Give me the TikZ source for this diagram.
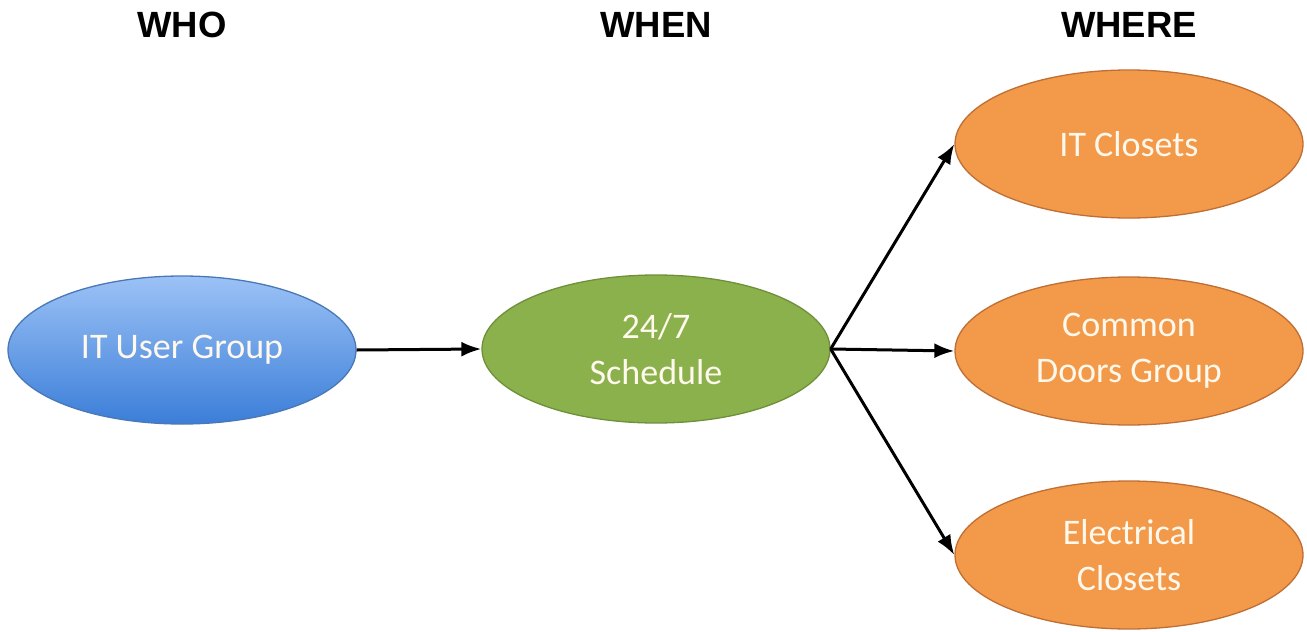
\documentclass[tikz,border=0pt]{standalone}
\usepackage{fontspec}
\setmainfont{Carlito}
\newfontfamily\headfont{Liberation Sans}
\usetikzlibrary{arrows.meta,shapes.geometric}
\definecolor{bluetop}{HTML}{9CC2F6}
\definecolor{bluebot}{HTML}{3B7ED8}
\definecolor{blueline}{HTML}{4A78B6}
\definecolor{greenfill}{HTML}{8BB14C}
\definecolor{greenline}{HTML}{6F8F3A}
\definecolor{orangefill}{HTML}{F3994A}
\definecolor{orangeline}{HTML}{BF6E34}
\definecolor{labeltext}{HTML}{FFF8EC}
\tikzset{
  bubble/.style={ellipse, minimum width=348pt, minimum height=148pt, inner sep=0pt,
    line width=1.3pt, align=center, text=labeltext,
    font=\fontsize{36}{46}\selectfont},
  whobubble/.style={bubble, draw=blueline, top color=bluetop, bottom color=bluebot},
  whenbubble/.style={bubble, draw=greenline, fill=greenfill},
  wherebubble/.style={bubble, draw=orangeline, fill=orangefill},
  heading/.style={font=\headfont\bfseries\fontsize{36.5}{40}\selectfont, text=black},
  link/.style={line width=3pt, -{Latex[length=20pt,width=15pt]}}
}
\begin{document}
\begin{tikzpicture}[x=1pt,y=-1pt]
  \useasboundingbox (0,0) rectangle (1307,632);

  % column headings
  \node[heading] (who)   at (182,25)  {WHO};
  \node[heading] (when)  at (656,25)  {WHEN};
  \node[heading] (where) at (1129,25) {WHERE};

  % bubbles
  \node[whobubble]   (users)    at (182,350)  {IT User Group};
  \node[whenbubble]  (sched)    at (656,349)  {24/7\\Schedule};
  \node[wherebubble] (itcl)     at (1129,144) {IT Closets};
  \node[wherebubble] (doors)    at (1129,351) {Common\\Doors Group};
  \node[wherebubble] (elec)     at (1129,555) {Electrical\\Closets};

  % connectors
  \draw[link] (users.east) -- (sched.west);
  \draw[link] (sched.east) -- (itcl.west);
  \draw[link] (sched.east) -- (doors.west);
  \draw[link] (sched.east) -- (elec.west);
\end{tikzpicture}
\end{document}
